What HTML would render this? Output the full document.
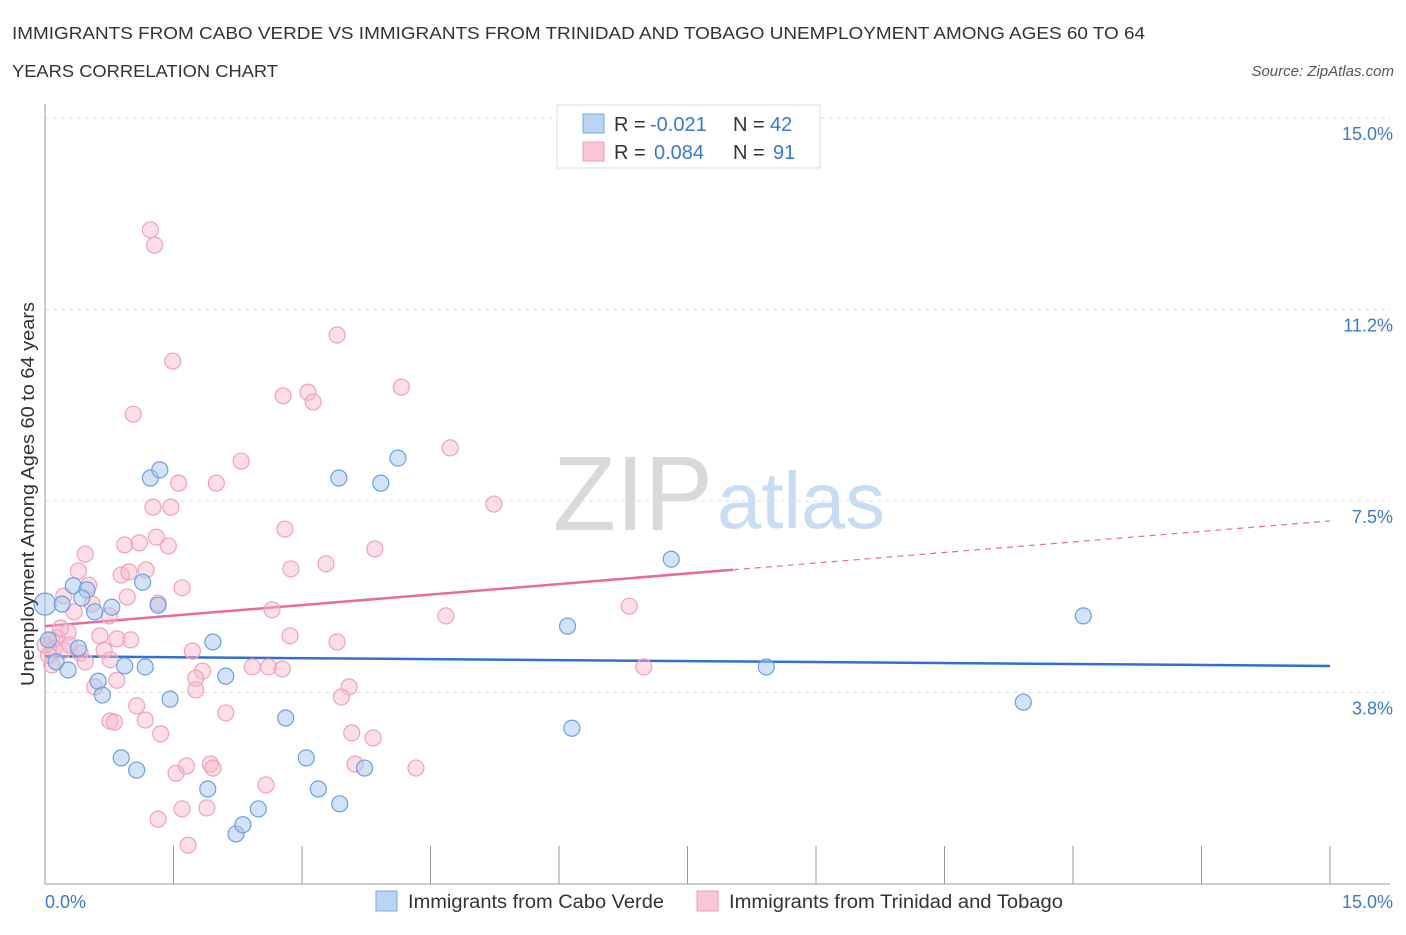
<!DOCTYPE html>
<html><head><meta charset="utf-8"><style>
body{margin:0;background:#fff;font-family:"Liberation Sans",sans-serif;}
svg text{font-family:"Liberation Sans",sans-serif;}
</style></head><body>
<svg id="chart" width="1406" height="930" viewBox="0 0 1406 930">
<text x="12" y="39" font-size="17.5" fill="#333" textLength="1133" lengthAdjust="spacingAndGlyphs">IMMIGRANTS FROM CABO VERDE VS IMMIGRANTS FROM TRINIDAD AND TOBAGO UNEMPLOYMENT AMONG AGES 60 TO 64</text>
<text x="12" y="77" font-size="17.5" fill="#333" textLength="266" lengthAdjust="spacingAndGlyphs">YEARS CORRELATION CHART</text>
<text x="1394" y="76" font-size="15" fill="#555" font-style="italic" text-anchor="end">Source: ZipAtlas.com</text>
<g>
<text x="553" y="530" font-size="106" fill="#d9d9d9" font-family="Liberation Serif, serif" textLength="160" lengthAdjust="spacingAndGlyphs">ZIP</text>
<text x="717" y="528" font-size="80" fill="#c8dcf2" textLength="168" lengthAdjust="spacingAndGlyphs">atlas</text>
</g>
<g id="grid"></g>
<g id="axes"></g>
<g id="lines"></g>
<g id="points"></g>
<text transform="translate(34,494) rotate(-90)" font-size="18" fill="#333" text-anchor="middle" textLength="384" lengthAdjust="spacingAndGlyphs">Unemployment Among Ages 60 to 64 years</text>
<g>
<rect x="557" y="105" width="263" height="63" fill="#fff" stroke="#ddd"/>
<rect x="583" y="114" width="21" height="19" fill="#bcd4f4" stroke="#7aa8e6"/>
<rect x="583" y="142" width="21" height="19" fill="#f8c6d6" stroke="#ee9cb6"/>
<text x="614" y="131" font-size="20" fill="#333">R =</text>
<text x="650" y="131" font-size="20" fill="#3a78d0">-0.021</text>
<text x="733" y="131" font-size="20" fill="#333">N =</text>
<text x="770" y="131" font-size="20" fill="#3a78d0">42</text>
<text x="614" y="159" font-size="20" fill="#333">R =</text>
<text x="654" y="159" font-size="20" fill="#3a78d0">0.084</text>
<text x="733" y="159" font-size="20" fill="#333">N =</text>
<text x="773" y="159" font-size="20" fill="#3a78d0">91</text>
</g>
<g>
<rect x="376" y="891" width="21" height="20" fill="#bcd4f4" stroke="#7aa8e6"/>
<text x="408" y="908" font-size="19" fill="#333" textLength="256" lengthAdjust="spacingAndGlyphs">Immigrants from Cabo Verde</text>
<rect x="697" y="891" width="21" height="20" fill="#f8c6d6" stroke="#ee9cb6"/>
<text x="729" y="908" font-size="19" fill="#333" textLength="334" lengthAdjust="spacingAndGlyphs">Immigrants from Trinidad and Tobago</text>
</g>
</svg>
<script>
const blueX=[0,0.20,0.33,0.49,0.43,0.58,0.78,1.14,1.32,1.23,1.34,0.13,0.27,0.39,0.62,0.67,0.93,1.17,1.46,1.96,2.11,0.89,1.07,1.90,2.23,2.31,2.49,2.81,3.05,3.19,3.44,3.73,3.43,3.92,4.12,6.10,6.15,7.31,8.42,11.42,12.12,0.04];
const blueY=[5.48,5.48,5.84,5.76,5.60,5.33,5.42,5.91,5.46,7.95,8.11,4.35,4.19,4.62,3.97,3.70,4.27,4.25,3.62,4.74,4.07,2.47,2.23,1.86,0.98,1.16,1.47,3.25,2.47,1.86,1.57,2.27,7.95,7.85,8.34,5.05,3.05,6.36,4.25,3.56,5.25,4.78];
const pinkX=[1.23,1.28,1.49,1.03,3.41,4.16,3.07,2.78,3.13,4.73,2.29,1.56,2.00,5.24,1.26,1.47,2.80,1.30,0.93,1.10,1.44,3.85,0.47,0.39,0.89,0.98,1.18,2.87,3.28,0.51,1.60,0.22,0.55,1.32,0.96,0.75,0.34,2.65,6.82,4.68,0.27,0.64,0.84,1.00,2.86,3.41,0.14,0.08,0.11,0.22,0.41,0.69,1.72,0.47,1.84,2.42,2.61,2.77,6.99,0.58,0.84,1.76,1.76,3.55,3.46,2.11,1.07,0.76,0.81,1.17,1.35,3.58,3.83,1.93,1.96,1.53,1.65,3.62,4.33,2.58,1.60,1.89,1.32,1.67,0.08,0.04,0.18,0.29,0.0,0.76];
const pinkY=[12.81,12.51,10.24,9.20,10.75,9.73,9.63,9.56,9.44,8.54,8.28,7.85,7.85,7.44,7.38,7.38,6.95,6.79,6.64,6.68,6.62,6.56,6.46,6.13,6.05,6.11,6.15,6.17,6.27,5.85,5.80,5.64,5.48,5.50,5.62,5.25,5.33,5.37,5.44,5.25,4.93,4.86,4.80,4.78,4.86,4.74,4.82,4.78,4.62,4.58,4.52,4.58,4.56,4.35,4.17,4.25,4.25,4.21,4.25,3.86,3.99,4.03,3.80,3.86,3.66,3.35,3.49,3.19,3.17,3.21,2.94,2.96,2.86,2.35,2.27,2.17,2.31,2.35,2.27,1.94,1.47,1.49,1.27,0.76,4.29,4.48,5.01,4.68,4.68,4.39];
const blueTrend=[4.46,4.27];
const pinkTrend=[5.05,7.11];
const pinkSolidEnd=8.03;
const yTicks=[15.0,11.25,7.5,3.75];
const yTickLabels=["15.0%","11.2%","7.5%","3.8%"];
const xTicks=[0,1.5,3,4.5,6,7.5,9,10.5,12,13.5,15];

const NS="http://www.w3.org/2000/svg";
const X0=45,X1=1330,YB=884,YT=118;
const sx=v=>X0+(X1-X0)*v/15;
const sy=v=>YB-(YB-YT)*v/15;
function mk(tag,attrs,parent){const e=document.createElementNS(NS,tag);for(const k in attrs)e.setAttribute(k,attrs[k]);document.getElementById(parent).appendChild(e);return e;}

yTicks.forEach((t,i)=>{
  const g=mk('line',{x1:X0,x2:X1+60,y1:sy(t),y2:sy(t),stroke:'#ddd','stroke-dasharray':'4,4'},'grid');
  
  
  const l=mk('text',{x:1393,y:sy(t)+22,'font-size':18,fill:'#3a78d0','text-anchor':'end'},'axes');
  l.textContent=yTickLabels[i];
  
  
});
const ya=mk('line',{x1:X0,x2:X0,y1:104,y2:YB,stroke:'#999'},'axes');


const xa=mk('line',{x1:X0,x2:X1+60,y1:YB,y2:YB,stroke:'#999'},'axes');


xTicks.forEach(t=>{
  const k=mk('line',{x1:sx(t),x2:sx(t),y1:846,y2:YB,stroke:'#999'},'axes');
  
  
});
const xl0=mk('text',{x:45,y:908,'font-size':18,fill:'#3a78d0'},'axes');xl0.textContent='0.0%';


const xl1=mk('text',{x:1393,y:908,'font-size':18,fill:'#3a78d0','text-anchor':'end'},'axes');xl1.textContent='15.0%';



pinkX.forEach((x,i)=>{
  const c=mk('circle',{cx:sx(x),cy:sy(pinkY[i]),r:8,fill:'rgba(248,182,202,0.45)',stroke:'#f0a2bb','stroke-width':1.2},'points');
  
  
});
blueX.forEach((x,i)=>{
  const c=mk('circle',{cx:sx(x),cy:sy(blueY[i]),r:i===0?11:8,fill:'rgba(168,200,240,0.5)',stroke:'#6d9fe0','stroke-width':1.2},'points');
  
  
});
const bl=mk('line',{x1:sx(0),y1:sy(blueTrend[0]),x2:sx(15),y2:sy(blueTrend[1]),stroke:'#2f6fd0','stroke-width':2.5},'lines');


const pm=pinkTrend[0]+(pinkTrend[1]-pinkTrend[0])*pinkSolidEnd/15;
const ps=mk('line',{x1:sx(0),y1:sy(pinkTrend[0]),x2:sx(pinkSolidEnd),y2:sy(pm),stroke:'#e86a98','stroke-width':2.5},'lines');


const pd=mk('line',{x1:sx(pinkSolidEnd),y1:sy(pm),x2:sx(15),y2:sy(pinkTrend[1]),stroke:'#e86a98','stroke-width':1.2,'stroke-dasharray':'6,5'},'lines');


</script>
</body></html>
